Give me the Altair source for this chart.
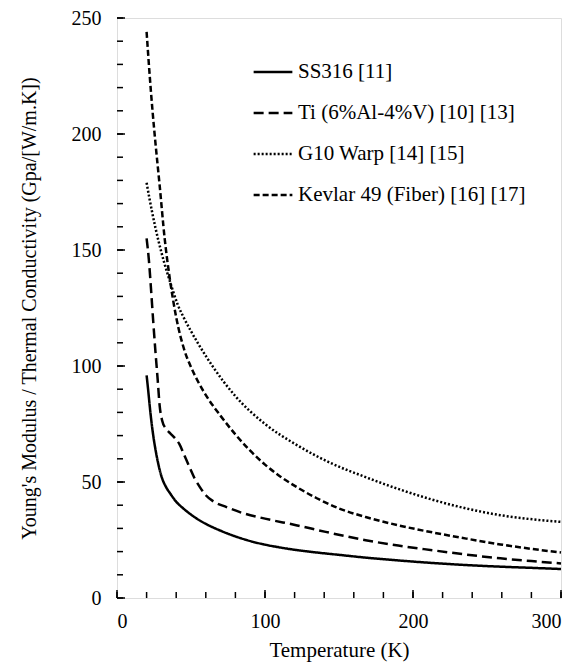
import altair as alt
import pandas as pd

SERIES = ["SS316 [11]", "Ti (6%Al-4%V) [10] [13]", "G10 Warp [14] [15]", "Kevlar 49 (Fiber) [16] [17]"]

ss_T = [20, 21, 22, 23, 24.5, 26, 28, 30, 33, 36, 40, 45, 51, 57, 63, 70, 78, 85, 92, 100, 110, 121, 135, 150, 168, 190, 213, 236, 259, 280, 300]
ss_v = [96, 90, 83.5, 77.5, 70, 64, 57.5, 52.5, 48, 45, 41.5, 38.5, 35.5, 33, 31, 29, 27, 25.5, 24.2, 23, 21.8, 20.7, 19.6, 18.6, 17.4, 16.2, 15.1, 14.2, 13.5, 13, 12.5]

ti_T = [20, 21.5, 23, 24.5, 26, 27.5, 28.8, 30.5, 33, 36, 39, 42, 45.5, 49, 52.5, 56, 60, 65, 74, 85, 100, 121, 141, 168, 190, 213, 236, 259, 280, 300]
ti_v = [155, 146, 133, 119, 106, 94, 83, 76.5, 73, 71, 69, 66.5, 61.5, 56.4, 51.5, 47.8, 44.3, 41.7, 39.2, 36.6, 34.2, 31.4, 28.5, 24.9, 22.6, 20.6, 18.7, 17.1, 15.9, 14.9]

g10_T = [20, 22, 24, 26, 28, 30, 32, 35, 38, 41, 45, 50, 55, 65, 80, 100, 120, 145, 168, 191, 213, 236, 259, 281, 300]
g10_v = [179, 172, 165.5, 159.5, 154, 149, 144.3, 138, 132, 126.5, 121, 115, 109.5, 99.5, 87, 75, 66.5, 58, 52.1, 46.8, 42.4, 38.6, 35.7, 33.9, 32.8]

kev_T = [20, 22, 24, 26, 28.8, 32.2, 35.6, 40, 45.7, 50, 55, 62, 70, 80, 90, 100, 110, 121, 135, 150, 168, 191, 213, 236, 259, 281, 300]
kev_v = [244, 226, 210, 196, 178, 155, 138, 121, 106.5, 99.5, 93, 85.5, 78.5, 70.5, 63.5, 57.5, 52.5, 48, 43, 38.6, 34.9, 31.2, 28.3, 25.6, 23.1, 21.1, 19.6]

x_labels = [0, 100, 200, 300]
y_labels = [0, 50, 100, 150, 200, 250]
x_ticks = list(range(0, 301, 20))
y_ticks = list(range(0, 251, 10))

rows = []
for name, ts, vs in zip(SERIES, [ss_T, ti_T, g10_T, kev_T], [ss_v, ti_v, g10_v, kev_v]):
    for i, (t, v) in enumerate(zip(ts, vs)):
        rows.append({"series": name, "T": t, "v": v, "order": i})
df = pd.DataFrame(rows)

FONT = "Liberation Serif"
W, H = 444, 580

xscale = alt.Scale(domain=[0, 300], nice=False, zero=False)
yscale = alt.Scale(domain=[0, 250], nice=False, zero=False)

x_axis = alt.Axis(
    values=x_labels, title="Temperature (K)", grid=False,
    ticks=False, tickSize=0, domain=False, labelPadding=13,
    labelFont=FONT, labelFontSize=20, labelColor="black",
    titleFont=FONT, titleFontSize=21, titleFontWeight="normal",
    titleColor="black", titlePadding=8)

y_axis = alt.Axis(
    values=y_labels, title="Young's Modulus / Thermal Conductivity (Gpa/[W/m.K])", grid=False,
    ticks=False, tickSize=0, domain=False, labelPadding=16,
    labelFont=FONT, labelFontSize=20, labelColor="black",
    titleFont=FONT, titleFontSize=20, titleFontWeight="normal",
    titleColor="black", titlePadding=32)

lines = alt.Chart(df).mark_line(color="black", interpolate="monotone").encode(
    x=alt.X("T:Q", scale=xscale, axis=x_axis),
    y=alt.Y("v:Q", scale=yscale, axis=y_axis),
    strokeDash=alt.StrokeDash("series:N",
        scale=alt.Scale(domain=SERIES, range=[[1, 0], [10, 5], [2, 2], [6, 3]]),
        legend=alt.Legend(title=None, orient="none", legendX=135, legendY=33,
                          symbolType="stroke", symbolSize=1500, symbolStrokeColor="black",
                          symbolStrokeWidth=2.5, labelFont=FONT, labelFontSize=21,
                          labelColor="black", labelOffset=4, rowPadding=10, padding=0,
                          labelLimit=400)),
    strokeWidth=alt.StrokeWidth("series:N",
        scale=alt.Scale(domain=SERIES, range=[2.5, 2.5, 2, 2.5]), legend=None),
    order="order:Q",
    detail="series:N",
)

xt = pd.DataFrame({"t": x_ticks})
yt = pd.DataFrame({"t": y_ticks})
xt_major = pd.DataFrame({"t": x_labels})
yt_major = pd.DataFrame({"t": y_labels})


def x_tick_layer(data, length):
    return alt.Chart(data).mark_rule(color="black", strokeWidth=1.5).encode(
        x=alt.X("t:Q", scale=xscale),
        y=alt.value(H),
        y2=alt.value(H - length),
    )


def y_tick_layer(data, length):
    return alt.Chart(data).mark_rule(color="black", strokeWidth=1.5).encode(
        y=alt.Y("t:Q", scale=yscale),
        x=alt.value(0),
        x2=alt.value(length),
    )


chart = alt.layer(
    lines,
    x_tick_layer(xt, 6), x_tick_layer(xt_major, 8),
    y_tick_layer(yt, 6), y_tick_layer(yt_major, 8),
).properties(
    width=W, height=H,
    autosize=alt.AutoSizeParams(type="none"),
    padding={"left": 109, "top": 10, "right": 16, "bottom": 72},
).configure_view(stroke="black", strokeWidth=1.8).configure(background="white")

chart.save("out.html", embed_options={"renderer": "svg", "actions": False})
